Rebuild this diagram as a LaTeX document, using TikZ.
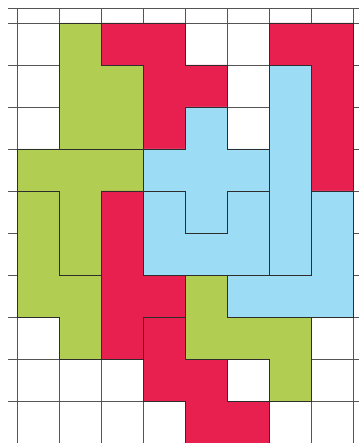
\documentclass[tikz,border=0pt]{standalone}
\begin{document}
\begin{tikzpicture}[x=1pt,y=-1pt,
  gridline/.style={draw={rgb,255:red,85;green,85;blue,85},line width=0.8pt},
  piece/.style={draw={rgb,255:red,45;green,45;blue,45},line width=0.9pt,line join=miter},
  gpiece/.style={piece,fill={rgb,255:red,178;green,206;blue,82}},
  rpiece/.style={piece,fill={rgb,255:red,232;green,32;blue,80}},
  bpiece/.style={piece,fill={rgb,255:red,157;green,220;blue,245}}]
\useasboundingbox (0,0) rectangle (359,443);
\begin{scope}[shift={(17,23)},x=42.1pt,y=-42pt]
  % grid
  \foreach \r in {-0.357,0,1,...,9} \draw[gridline] (-0.214,\r) -- (8.12,\r);
  \foreach \c in {0,...,8} \draw[gridline] (\c,-0.357) -- (\c,10.05);
  % green pieces
  \draw[gpiece] (1,0)--(2,0)--(2,1)--(3,1)--(3,3)--(1,3)--cycle;
  \draw[gpiece] (0,3)--(3,3)--(3,4)--(2,4)--(2,6)--(1,6)--(1,4)--(0,4)--cycle;
  \draw[gpiece] (0,4)--(1,4)--(1,6)--(2,6)--(2,8)--(1,8)--(1,7)--(0,7)--cycle;
  \draw[gpiece] (4,6)--(5,6)--(5,7)--(7,7)--(7,9)--(6,9)--(6,8)--(4,8)--cycle;
  % red pieces
  \draw[rpiece] (2,0)--(4,0)--(4,1)--(5,1)--(5,2)--(4,2)--(4,3)--(3,3)--(3,1)--(2,1)--cycle;
  \draw[rpiece] (6,0)--(8,0)--(8,4)--(7,4)--(7,1)--(6,1)--cycle;
  \draw[rpiece] (2,4)--(3,4)--(3,6)--(4,6)--(4,7)--(3,7)--(3,8)--(2,8)--cycle;
  \draw[rpiece] (3,7)--(4,7)--(4,8)--(5,8)--(5,9)--(6,9)--(6,10)--(4,10)--(4,9)--(3,9)--cycle;
  % blue pieces
  \draw[bpiece] (6,1)--(7,1)--(7,6)--(6,6)--cycle;
  \draw[bpiece] (4,2)--(5,2)--(5,3)--(6,3)--(6,4)--(5,4)--(5,5)--(4,5)--(4,4)--(3,4)--(3,3)--(4,3)--cycle;
  \draw[bpiece] (3,4)--(4,4)--(4,5)--(5,5)--(5,4)--(6,4)--(6,6)--(3,6)--cycle;
  \draw[bpiece] (7,4)--(8,4)--(8,7)--(5,7)--(5,6)--(7,6)--cycle;
\end{scope}
\end{tikzpicture}
\end{document}
